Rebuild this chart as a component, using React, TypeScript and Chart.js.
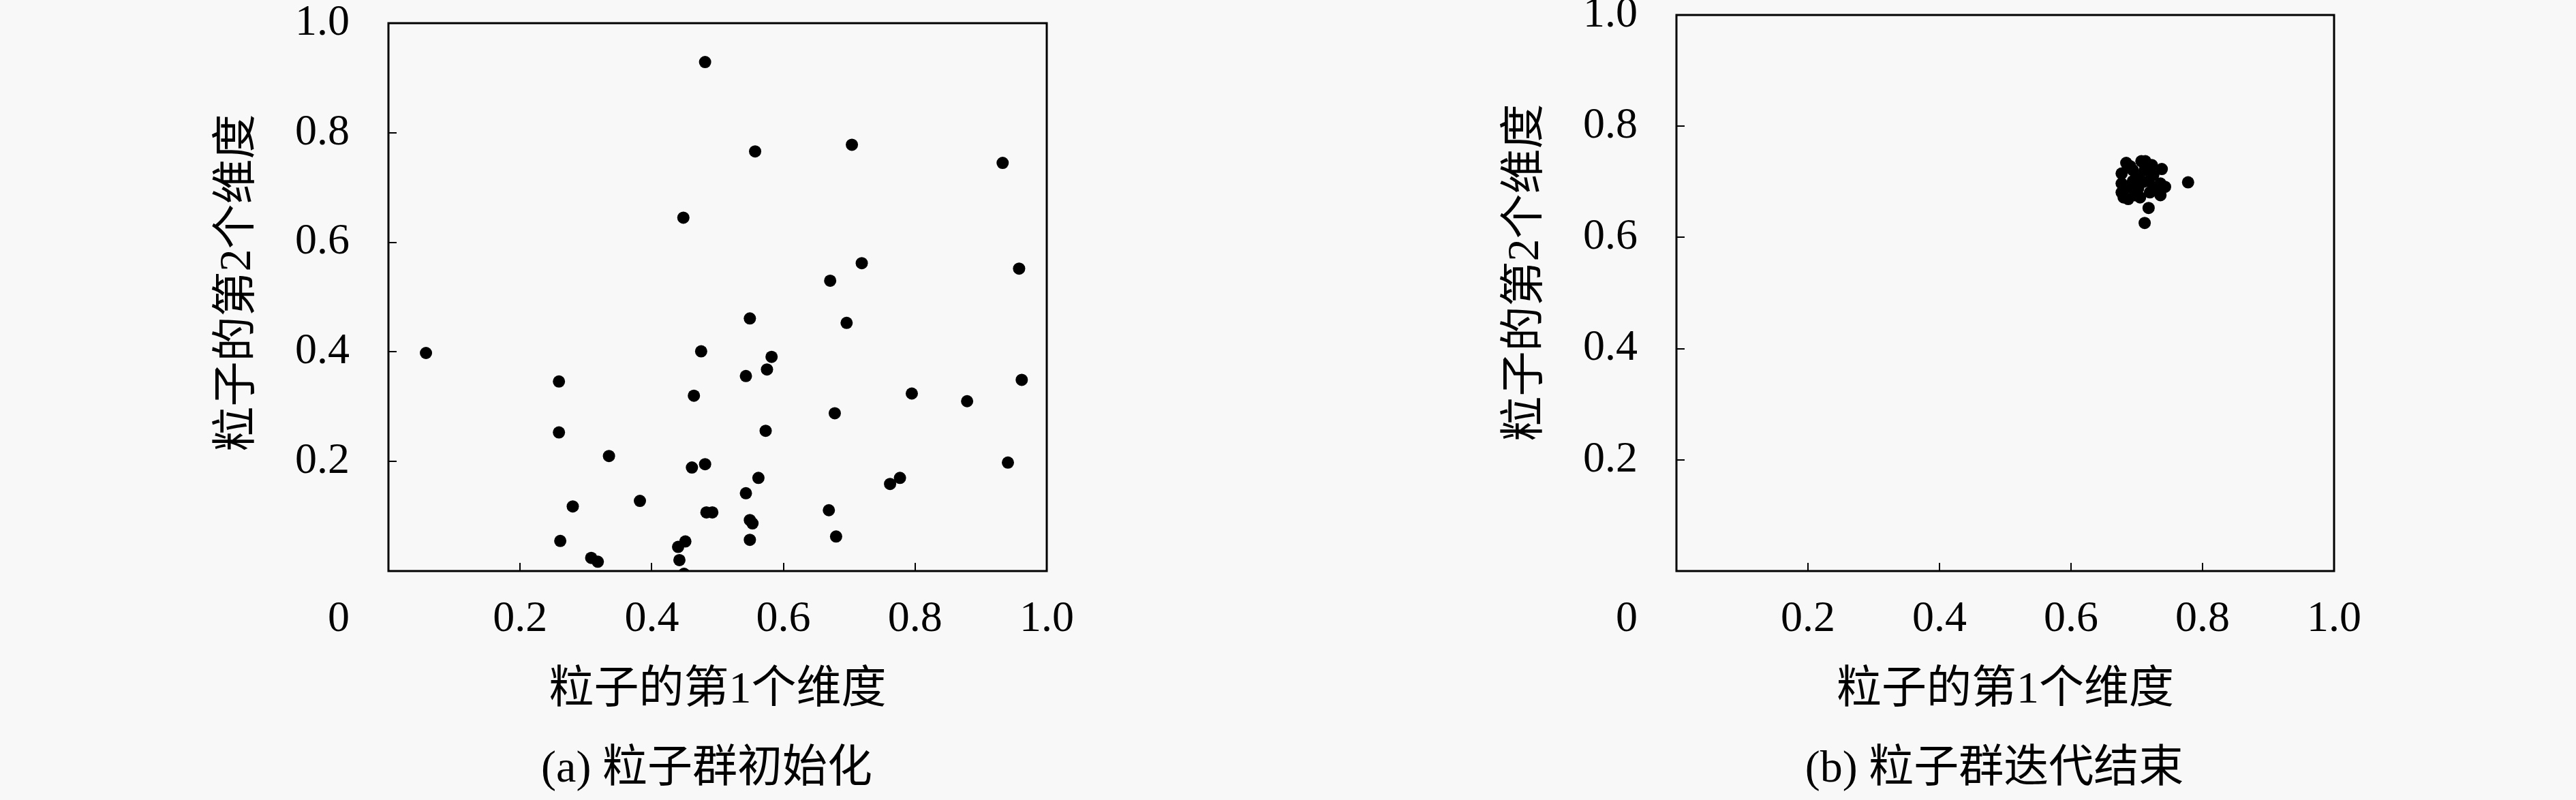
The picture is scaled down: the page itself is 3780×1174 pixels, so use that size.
import React, { useEffect, useRef } from 'react';
import { Chart, registerables } from 'chart.js';

Chart.register(...registerables);

// ---- data ----
const initX = [0.481, 0.557, 0.704, 0.933, 0.448, 0.719, 0.958, 0.671, 0.549, 0.696, 0.057, 0.475, 0.582, 0.575, 0.543, 0.259, 0.962, 0.464, 0.795, 0.879, 0.678, 0.259, 0.573, 0.335, 0.481, 0.461, 0.941, 0.562, 0.777, 0.762, 0.543, 0.382, 0.280, 0.483, 0.492, 0.669, 0.549, 0.553, 0.261, 0.549, 0.680, 0.451, 0.440, 0.442, 0.308, 0.318, 0.449];
const initY = [0.929, 0.766, 0.778, 0.745, 0.645, 0.562, 0.552, 0.530, 0.461, 0.453, 0.398, 0.401, 0.391, 0.368, 0.356, 0.346, 0.349, 0.320, 0.324, 0.310, 0.288, 0.253, 0.256, 0.210, 0.195, 0.189, 0.198, 0.170, 0.170, 0.159, 0.142, 0.128, 0.118, 0.107, 0.107, 0.111, 0.093, 0.087, 0.055, 0.057, 0.063, 0.054, 0.044, 0.020, 0.024, 0.017, -0.005];

const finalX = [0.684, 0.707, 0.713, 0.738, 0.677, 0.677, 0.677, 0.680, 0.694, 0.694, 0.697, 0.712, 0.718, 0.720, 0.736, 0.743, 0.736, 0.705, 0.687, 0.723, 0.702, 0.778, 0.718, 0.712, 0.690, 0.700, 0.725, 0.685, 0.728, 0.710];
const finalY = [0.734, 0.737, 0.737, 0.723, 0.715, 0.697, 0.681, 0.672, 0.721, 0.701, 0.676, 0.721, 0.701, 0.681, 0.697, 0.691, 0.676, 0.672, 0.669, 0.730, 0.688, 0.699, 0.653, 0.626, 0.728, 0.712, 0.712, 0.690, 0.690, 0.700];

const axisMin = 0;
const axisMax = 1.0;
const tickStep = 0.2;
const originLabel = '0';
const xTitle = '粒子的第1个维度';
const yTitle = '粒子的第2个维度';
const captionA = '(a) 粒子群初始化';
const captionB = '(b) 粒子群迭代结束';

const SERIF = "'Liberation Serif', 'Noto Sans CJK SC', serif";
const BG = '#f8f8f8';

const extrasPlugin = {
  id: 'extras',
  afterDraw(chart: any, _args: any, opts: any) {
    const { ctx, chartArea: a, scales } = chart;
    ctx.save();
    ctx.strokeStyle = '#000';
    ctx.lineWidth = 3;
    ctx.strokeRect(a.left, a.top, a.right - a.left, a.bottom - a.top);
    ctx.fillStyle = '#000';
    ctx.textAlign = 'center';
    ctx.textBaseline = 'middle';
    ctx.font = `64px ${SERIF}`;
    ctx.fillText(originLabel, scales.x.getPixelForValue(axisMin) - 73, a.bottom + 71);
    ctx.font = `66px ${SERIF}`;
    ctx.fillText(opts.caption, (a.left + a.right) / 2 - 16, a.bottom + 292);
    ctx.translate(opts.yTitleX, opts.yTitleY);
    ctx.rotate(-Math.PI / 2);
    ctx.fillText(yTitle, 0, 0);
    ctx.restore();
  },
};

function makeConfig(xs: number[], ys: number[], caption: string, top: number, right: number, yTitleY: number): any {
  const pts = xs.map((x, i) => ({ x, y: ys[i] }));
  const fmt = (v: any) => (Math.abs(v) < 1e-9 ? '' : Number(v).toFixed(1));
  return {
    type: 'scatter',
    data: {
      datasets: [
        {
          data: pts,
          pointRadius: 9,
          pointHoverRadius: 9,
          pointBackgroundColor: '#000',
          pointBorderWidth: 0,
          clip: 0,
        },
      ],
    },
    options: {
      responsive: false,
      animation: false,
      events: [],
      layout: { padding: { left: 0, right, top, bottom: 121 } },
      plugins: {
        legend: { display: false },
        tooltip: { enabled: false },
        extras: { caption, yTitleX: 350, yTitleY },
      },
      scales: {
        x: {
          type: 'linear',
          position: 'bottom',
          min: axisMin,
          max: axisMax,
          ticks: {
            stepSize: tickStep,
            callback: fmt,
            font: { family: SERIF, size: 64 },
            color: '#000',
            padding: 45,
            maxRotation: 0,
            autoSkip: false,
          },
          grid: { drawOnChartArea: false, drawTicks: true, tickLength: -12, color: '#000', lineWidth: 2 },
          border: { display: false },
          title: {
            display: true,
            text: xTitle,
            font: { family: SERIF, size: 66 },
            color: '#000',
            padding: { top: 0, bottom: 0 },
          },
          afterFit: (s: any) => {
            s.height = 215;
            s.paddingLeft = 0;
            s.paddingRight = 0;
          },
        },
        y: {
          type: 'linear',
          position: 'left',
          min: axisMin,
          max: axisMax,
          ticks: {
            stepSize: tickStep,
            callback: fmt,
            font: { family: SERIF, size: 64 },
            color: '#000',
            padding: 69,
            autoSkip: false,
          },
          grid: { drawOnChartArea: false, drawTicks: true, tickLength: -12, color: '#000', lineWidth: 2 },
          border: { display: false },
          title: { display: false },
          afterFit: (s: any) => {
            s.width = 570;
            s.paddingTop = 0;
            s.paddingBottom = 0;
          },
        },
      },
    },
    plugins: [extrasPlugin],
  };
}

export default function App() {
  const leftRef = useRef<HTMLCanvasElement>(null);
  const rightRef = useRef<HTMLCanvasElement>(null);

  useEffect(() => {
    document.body.style.margin = '0';
    document.body.style.background = BG;
    const c1 = new Chart(leftRef.current as HTMLCanvasElement, makeConfig(initX, initY, captionA, 34, 354, 415));
    const c2 = new Chart(rightRef.current as HTMLCanvasElement, makeConfig(finalX, finalY, captionB, 22, 355, 400));
    return () => {
      c1.destroy();
      c2.destroy();
    };
  }, []);

  return (
    <div style={{ position: 'absolute', left: 0, top: 0, width: 3780, height: 1174, background: BG, overflow: 'hidden' }}>
      <canvas ref={leftRef} width={1890} height={1174} style={{ position: 'absolute', left: 0, top: 0, width: 1890, height: 1174 }} />
      <canvas ref={rightRef} width={1890} height={1174} style={{ position: 'absolute', left: 1890, top: 0, width: 1890, height: 1174 }} />
    </div>
  );
}
